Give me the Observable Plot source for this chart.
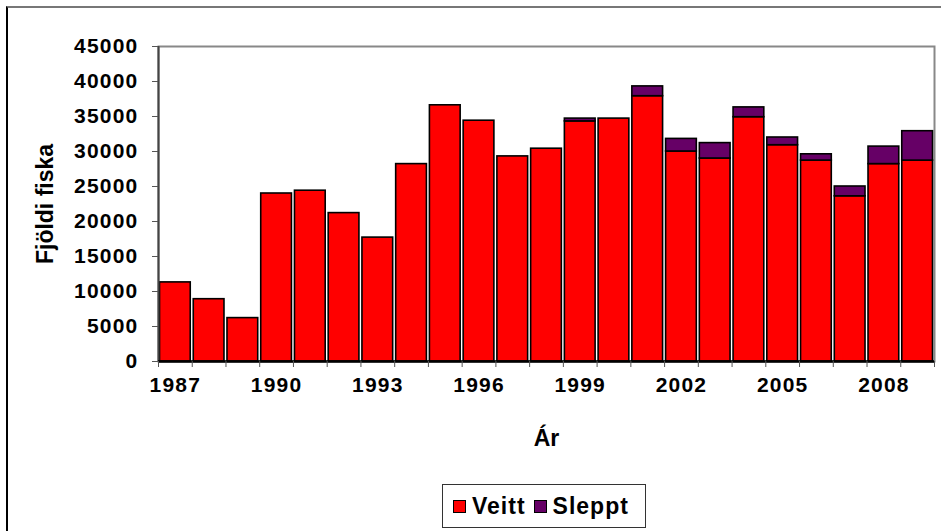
<!DOCTYPE html>
<html>
<head>
<meta charset="utf-8">
<script src="https://cdn.jsdelivr.net/npm/d3@7"></script>
<script src="https://cdn.jsdelivr.net/npm/@observablehq/plot@0.6"></script>
<style>
  html, body { margin: 0; padding: 0; background: #fff; }
  #wrap { position: relative; width: 941px; height: 531px; overflow: hidden; font-family: "Liberation Sans", Arial, sans-serif; }
  #border { position: absolute; left: 6px; top: 6px; width: 1000px; height: 1000px; border-left: 2px solid #000; border-top: 2px solid #777; box-sizing: border-box; }
  #legend { position: absolute; left: 442px; top: 484px; width: 204px; height: 44px; border: 1px solid #333; box-sizing: border-box; background: #fff;
            display: flex; align-items: center; font-weight: bold; font-size: 23px; letter-spacing: 1px; }
  .sw { display: inline-block; width: 13px; height: 13px; border: 1.5px solid #000; box-sizing: border-box; margin-right: 6px; }
  .item { display: flex; align-items: center; }
  #chart g[aria-label="y-axis tick label"] text,
  #chart g[aria-label="x-axis tick label"] text { font-size: 21px !important; font-weight: bold; letter-spacing: 1.2px; }
  #chart g[aria-label="y-axis tick label"] { font-size: 21px !important; }
  #chart g[aria-label="x-axis tick label"] { font-size: 21px !important; }
  #chart .ttl { font-size: 23px !important; font-weight: bold; }
  #chart .ttl text { font-size: 23px !important; }
</style>
</head>
<body>
<div id="wrap">
  <div id="border"></div>
  <div id="chart"></div>
  <div id="legend"></div>
</div>
<script>
const years = [1987,1988,1989,1990,1991,1992,1993,1994,1995,1996,1997,1998,1999,2000,2001,2002,2003,2004,2005,2006,2007,2008,2009];
const veitt = [11300,8900,6200,24000,24400,21200,17700,28200,36600,34400,29300,30400,34300,34700,37900,30000,29000,34900,30900,28700,23600,28200,28700];
const sleppt = [0,0,0,0,0,0,0,0,0,0,0,0,400,0,1400,1800,2200,1400,1100,900,1400,2500,4200];
const seriesNames = ["Veitt", "Sleppt"];
const seriesColors = ["#FF0000", "#660066"];
const yTicks = [0,5000,10000,15000,20000,25000,30000,35000,40000,45000];
const xLabelYears = [1987,1990,1993,1996,1999,2002,2005,2008];
const yTitle = "Fjöldi fiska";
const xTitle = "Ár";

const rows = [];
years.forEach((yr, i) => rows.push({year: yr, series: "Veitt", value: veitt[i]}));
years.forEach((yr, i) => rows.push({year: yr, series: "Sleppt", value: sleppt[i]}));
const boundaries = [...years.map(y => y - 0.5), years[years.length - 1] + 0.5];

const chart = Plot.plot({
  width: 941,
  height: 531,
  marginLeft: 158,
  marginRight: 7,
  marginTop: 46,
  marginBottom: 170,
  style: {fontFamily: "'Liberation Sans', Arial, sans-serif", background: "transparent", overflow: "visible"},
  x: {domain: [1986.5, 2009.5]},
  y: {domain: [0, 45000]},
  color: {domain: seriesNames, range: seriesColors},
  marks: [
    Plot.frame({stroke: "#888", strokeWidth: 2}),
    Plot.rectY(rows, Plot.stackY({
      x1: d => d.year - 0.5,
      x2: d => d.year + 0.5,
      y: "value",
      fill: "series",
      stroke: "#000",
      strokeWidth: 1.6,
      insetLeft: 1.5,
      insetRight: 1.5,
      filter: d => d.value > 0
    })),
    Plot.ruleX([1986.5], {stroke: "#444", strokeWidth: 2}),
    Plot.ruleY([0], {stroke: "#000", strokeWidth: 2.5}),
    Plot.axisY({ticks: yTicks, tickSize: 6, tickPadding: 14, tickFormat: d3.format("d"), label: null,
      fontSize: 21, fontWeight: "bold", stroke: "#555"}),
    Plot.axisX({ticks: boundaries, tickSize: 6, tickFormat: () => "", label: null, stroke: "#555"}),
    Plot.axisX({ticks: xLabelYears, tickSize: 0, tickPadding: 16, tickFormat: d3.format("d"), label: null,
      fontSize: 21, fontWeight: "bold"}),
    Plot.text([xTitle], {frameAnchor: "bottom", dy: 77, text: d => d, fontSize: 23, fontWeight: "bold", lineAnchor: "middle", className: "ttl"}),
    Plot.text([yTitle], {frameAnchor: "left", dx: -113, rotate: -90, text: d => d, textAnchor: "middle", fontSize: 23, fontWeight: "bold", lineAnchor: "middle", className: "ttl", style: {letterSpacing: "0.8px"}})
  ]
});
document.getElementById("chart").appendChild(chart);

const legend = document.getElementById("legend");
seriesNames.forEach((name, i) => {
  const item = document.createElement("span");
  item.className = "item";
  item.style.marginLeft = i === 0 ? "10px" : "8px";
  const sw = document.createElement("span");
  sw.className = "sw";
  sw.style.background = seriesColors[i];
  item.appendChild(sw);
  item.appendChild(document.createTextNode(name));
  legend.appendChild(item);
});
</script>
</body>
</html>
